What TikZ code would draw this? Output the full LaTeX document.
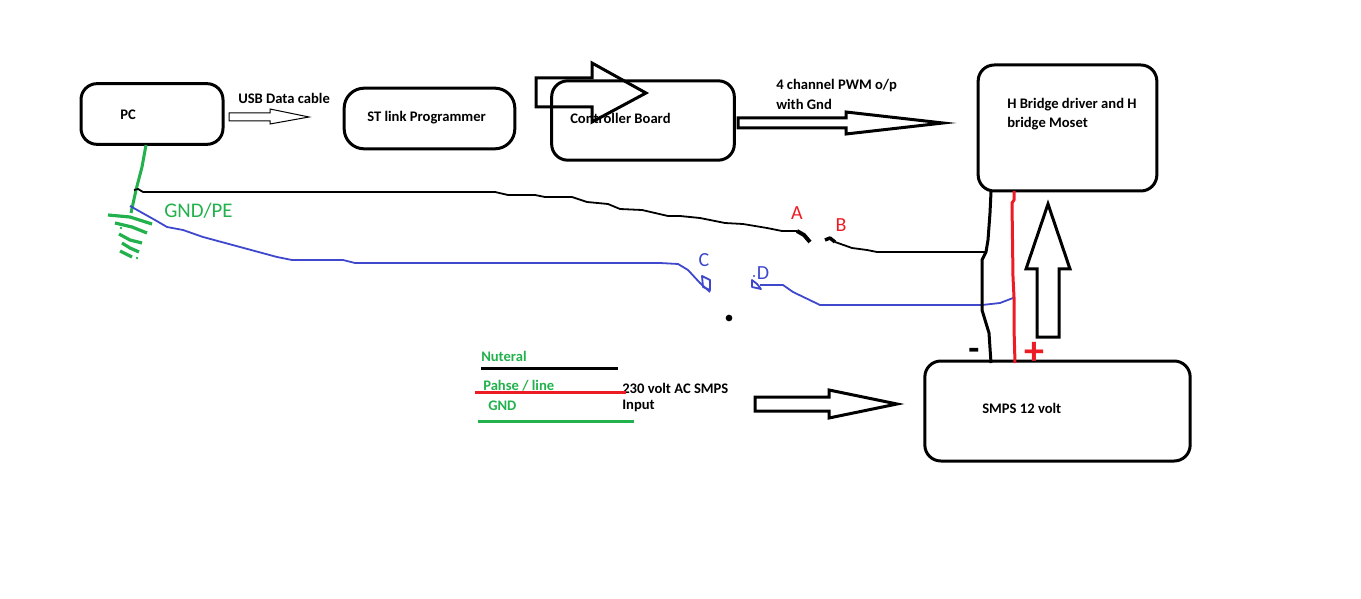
\documentclass[tikz,border=0pt]{standalone}
\usepackage{fontspec}
\setmainfont{Carlito}
\usetikzlibrary{positioning}
\definecolor{wireGreen}{RGB}{34,177,76}
\definecolor{wireBlue}{RGB}{63,72,204}
\definecolor{wireRed}{RGB}{237,28,36}
\begin{document}
\begin{tikzpicture}[
    x=0.75pt, y=-0.75pt,
    box/.style={rectangle, draw=black, line width=2.25pt, rounded corners=12pt},
    txt/.style={anchor=west, inner sep=0pt, yshift=-0.75pt, font=\fontsize{10.95}{12}\selectfont\bfseries},
    greentxt/.style={txt, text=wireGreen},
    letter/.style={inner sep=0pt, font=\fontsize{15}{16}\selectfont},
    bigarrow/.style={draw=black, line width=2.25pt, line join=miter},
    thinwire/.style={line width=1.35pt, line join=round},
    thickwire/.style={line width=2.25pt, line join=round},
    earth/.style={draw=wireGreen, line width=2.4pt}
]
\useasboundingbox (0,0) rectangle (1361,599);

% Boxes
\node[box, minimum width=106.5pt, minimum height=45.5pt] (pc) at (152,114) {};
\node[box, rounded corners=15pt, minimum width=128pt, minimum height=45.5pt] (stlink) at (429.5,118.5) {};
\node[box, minimum width=137pt, minimum height=59.5pt] (ctrl) at (643,120.5) {};
\node[box, minimum width=134pt, minimum height=94.5pt] (hbridge) at (1067.5,128) {};
\node[box, minimum width=199pt, minimum height=75pt] (smps) at (1057.5,411) {};

% Box texts
\node[txt] (pctxt) at (120,114) {PC};
\node[txt] (usbtxt) at (238,97) {USB Data cable};
\node[txt] (sttxt) at (367,117) {ST link Programmer};
\node[txt] (ctrltxt) at (570,117) {Controller Board};
\node[txt] (pwmtxt1) at (776,85) {4 channel PWM o/p};
\node[txt] (pwmtxt2) at (776,103) {with Gnd};
\node[txt] (hbtxt1) at (1007,104) {H Bridge driver and H};
\node[txt] (hbtxt2) at (1007,123) {bridge Moset};
\node[txt] (smpstxt) at (982,407) {SMPS 12 volt};
\node[txt] (actxt1) at (622,387) {230 volt AC SMPS};
\node[txt] (actxt2) at (622,405) {Input};

% Legend
\node[greentxt] (neutxt) at (481,355) {Nuteral};
\node[greentxt] (phtxt) at (483,385) {Pahse / line};
\node[greentxt] (gndtxt) at (488,405) {GND};
\coordinate (neuL) at (481,368);
\coordinate (neuR) at (618,368);
\coordinate (phL) at (475,392);
\coordinate (phR) at (626,392);
\coordinate (gndL) at (478,421);
\coordinate (gndR) at (634,421);
\draw[thickwire] (neuL) -- (neuR);
\draw[thickwire, wireRed] (phL) -- (phR);
\draw[thickwire, wireGreen] (gndL) -- (gndR);

% Block arrows
\draw[black, line width=0.75pt, line join=miter] (229,113) -- (270,113) -- (270,109) -- (309,117) -- (270,124) -- (270,121) -- (229,121) -- cycle;
\draw[bigarrow] (536,78) -- (592,78) -- (592,63) -- (646,93) -- (592,122) -- (592,107) -- (536,107) -- cycle;
\draw[bigarrow] (738,118) -- (846,118) -- (846,112) -- (943,123) -- (846,134) -- (846,128) -- (738,128) -- cycle;
\draw[bigarrow] (1048,204) -- (1070,269) -- (1059,269) -- (1059,337) -- (1037,337) -- (1037,269) -- (1026,269) -- cycle;
\draw[bigarrow] (755,397) -- (829,397) -- (829,390) -- (897,404) -- (829,418) -- (829,411) -- (755,411) -- cycle;

% Wire ends
\coordinate (earthTop) at (131,213);
\coordinate (pcGnd) at (146,145);
\coordinate (wireA) at (810,242);
\coordinate (wireB) at (825,240);
\coordinate (wireC) at (710,292);
\coordinate (wireD) at (760,285);
\coordinate (hbMinus) at (991,192);
\coordinate (hbPlus) at (1014,191);
\coordinate (smpsMinus) at (991,363);
\coordinate (smpsPlus) at (1015,363);
\coordinate (tapMinus) at (986,252);
\coordinate (tapPlus) at (1013,298);

% Green earth
\draw[thickwire, wireGreen] (pcGnd) -- (142,167) -- (136,190) -- (earthTop);
\draw[earth] (108,215) -- (130,217) -- (152,224);
\draw[earth] (115,223) -- (132,227) -- (147,233);
\draw[earth] (119,234) -- (130,240) -- (142,243);
\draw[earth] (122,243) -- (130,248) -- (139,252);
\draw[earth] (120,251) -- (132,257);

% Black line A and B
\draw[thinwire] (134,190) -- (138,189) -- (143,192) -- (495,192) -- (508,195) -- (535,195) -- (545,197) -- (572,197) -- (587,202) -- (608,204) -- (620,209) -- (642,210) -- (655,213) -- (668,216) -- (680,216) -- (700,218) -- (725,223) -- (743,224) -- (767,228) -- (782,231) -- (797,231);
\draw[line width=3pt, line join=round] (797,231) -- (804,235) -- (wireA);
\draw[line width=2.6pt, line join=round] (wireB) -- (830,238) -- (835,242);
\draw[thinwire] (835,242) -- (852,248) -- (867,250) -- (877,252) -- (tapMinus);

% Blue line C and D
\draw[thinwire, wireBlue] (130,206) -- (155,220) -- (167,227) -- (183,230) -- (203,237) -- (240,247) -- (277,257) -- (292,260) -- (343,260) -- (355,263) -- (660,263) -- (678,264) -- (688,270) -- (700,283) -- (wireC);
\draw[thinwire, wireBlue] (702,276) -- (710,280) -- (710,290) -- (703,287) -- cycle;
\draw[thinwire, wireBlue] (752,280) -- (752,287) -- (761,289) -- (757,284) -- cycle;
\draw[thinwire, wireBlue] (wireD) -- (783,285) -- (793,292) -- (820,305) -- (982,305) -- (1000,303) -- (tapPlus);

% Power wires
\draw[thickwire] (hbMinus) -- (990,213) -- (988,240) -- (tapMinus) -- (982,260) -- (982,310) -- (989,333) -- (smpsMinus);
\draw[thickwire, wireRed] (hbPlus) -- (1014,200) -- (1012,203) -- (1013,277) -- (1014,297) -- (1014,328) -- (smpsPlus);

% Letters and signs
\node[letter, text=wireGreen, anchor=west, font=\fontsize{15.6}{16}\selectfont] (gndpe) at (164,211) {GND/PE};
\node[letter, text=wireRed] (la) at (797,213) {A};
\node[letter, text=wireRed] (lb) at (841,225) {B};
\node[letter, text=wireBlue] (lc) at (704,260) {C};
\node[letter, text=wireBlue] (ld) at (763,273) {D};
\node[inner sep=0pt, font=\fontsize{27}{27}\selectfont\bfseries] (minus) at (974,354) {-};
\node[inner sep=0pt, text=wireRed, font=\fontsize{30}{30}\selectfont\bfseries] (plus) at (1034,353) {+};

% Small marks
\fill[wireGreen] (121,228) circle (1pt);
\fill[wireGreen] (137,258) circle (1pt);
\fill[wireBlue] (754,276) circle (0.8pt);
\fill[black] (729,318) circle (2.5pt);

\end{tikzpicture}
\end{document}
